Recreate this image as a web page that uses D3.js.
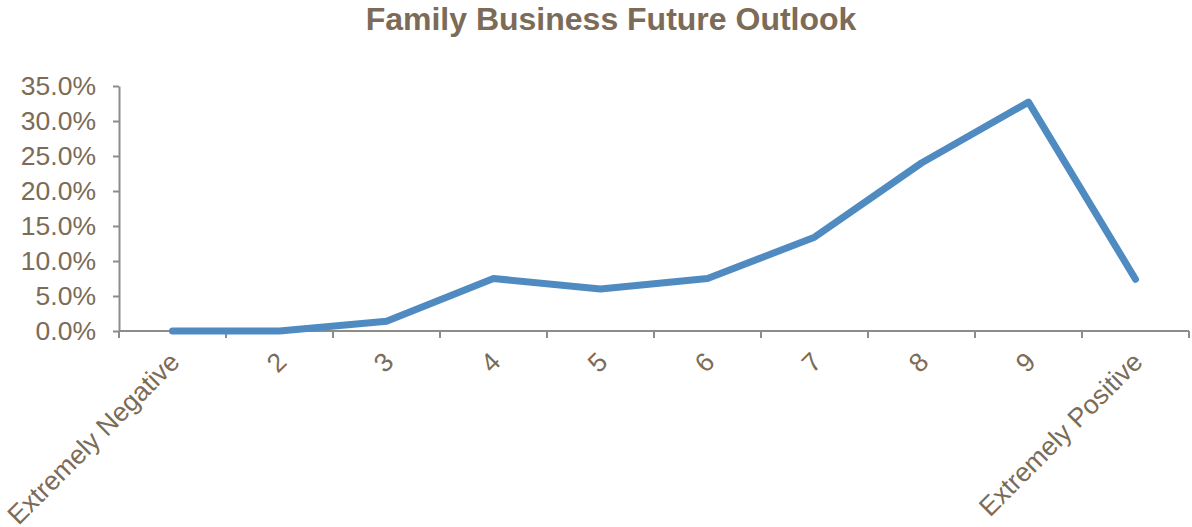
<!DOCTYPE html>
<html>
<head>
<meta charset="utf-8">
<script src="https://cdn.jsdelivr.net/npm/d3@7"></script>
<style>
  html, body { margin: 0; padding: 0; background: #fff; }
  svg { display: block; font-family: "Liberation Sans", Arial, sans-serif; }
</style>
</head>
<body>
<svg id="chart" width="1192" height="527"></svg>
<script>
// Survey responses: share of respondents per outlook rating
const categories = ["Extremely Negative", "2", "3", "4", "5", "6", "7", "8", "9", "Extremely Positive"];
const shares = [0.000, 0.000, 0.014, 0.075, 0.060, 0.075, 0.134, 0.240, 0.327, 0.074];
const yTicks = [0, 0.05, 0.10, 0.15, 0.20, 0.25, 0.30, 0.35];
const title = "Family Business Future Outlook";

const W = 1192, H = 527;
const margin = { left: 119, right: 3, top: 86, bottom: 196 };
const textColor = "#7b6b57";
const axisColor = "#8c8c8c";
const lineColor = "#4f8bc1";
const labelSize = 26.5;

const svg = d3.select("#chart");

const x = d3.scaleBand()
  .domain(categories)
  .range([margin.left, W - margin.right])
  .paddingInner(0).paddingOuter(0);

const y = d3.scaleLinear()
  .domain([0, 0.35])
  .range([H - margin.bottom, margin.top]);

// Title
svg.append("text")
  .attr("x", 611).attr("y", 30)
  .attr("text-anchor", "middle")
  .attr("font-size", 32).attr("font-weight", "bold")
  .attr("fill", textColor)
  .text(title);

// Y axis
const yAxis = svg.append("g")
  .attr("transform", `translate(${margin.left},0)`)
  .call(d3.axisLeft(y).tickValues(yTicks).tickFormat(d3.format(".1%")).tickSizeInner(6).tickSizeOuter(0).tickPadding(17));
yAxis.select(".domain").attr("stroke", axisColor).attr("stroke-width", 2);
yAxis.selectAll(".tick line").attr("stroke", axisColor).attr("stroke-width", 2);
yAxis.selectAll(".tick text")
  .attr("font-size", labelSize).attr("fill", textColor)
  .attr("font-family", "Liberation Sans, Arial, sans-serif");

// X axis with ticks at band boundaries
const xAxisG = svg.append("g")
  .attr("transform", `translate(0,${y(0)})`);
xAxisG.append("line")
  .attr("x1", margin.left).attr("x2", W - margin.right)
  .attr("y1", 0).attr("y2", 0)
  .attr("stroke", axisColor).attr("stroke-width", 2);
const boundaries = categories.map(c => x(c)).concat([x(categories[categories.length - 1]) + x.bandwidth()]);
xAxisG.selectAll("line.tick")
  .data(boundaries)
  .join("line")
  .attr("class", "tick")
  .attr("x1", d => d).attr("x2", d => d)
  .attr("y1", 0).attr("y2", 7)
  .attr("stroke", axisColor).attr("stroke-width", 2);
xAxisG.selectAll("text")
  .data(categories)
  .join("text")
  .attr("transform", d => `translate(${x(d) + x.bandwidth() / 2 + 2},${26}) rotate(-45)`)
  .attr("text-anchor", "end")
  .attr("dy", "0.35em")
  .attr("font-size", labelSize)
  .attr("fill", textColor)
  .text(d => d);

// Series line
const line = d3.line()
  .x((d, i) => x(categories[i]) + x.bandwidth() / 2)
  .y(d => y(d));

svg.append("path")
  .datum(shares)
  .attr("d", line)
  .attr("fill", "none")
  .attr("stroke", lineColor)
  .attr("stroke-width", 7)
  .attr("stroke-linejoin", "round")
  .attr("stroke-linecap", "round");
</script>
</body>
</html>
